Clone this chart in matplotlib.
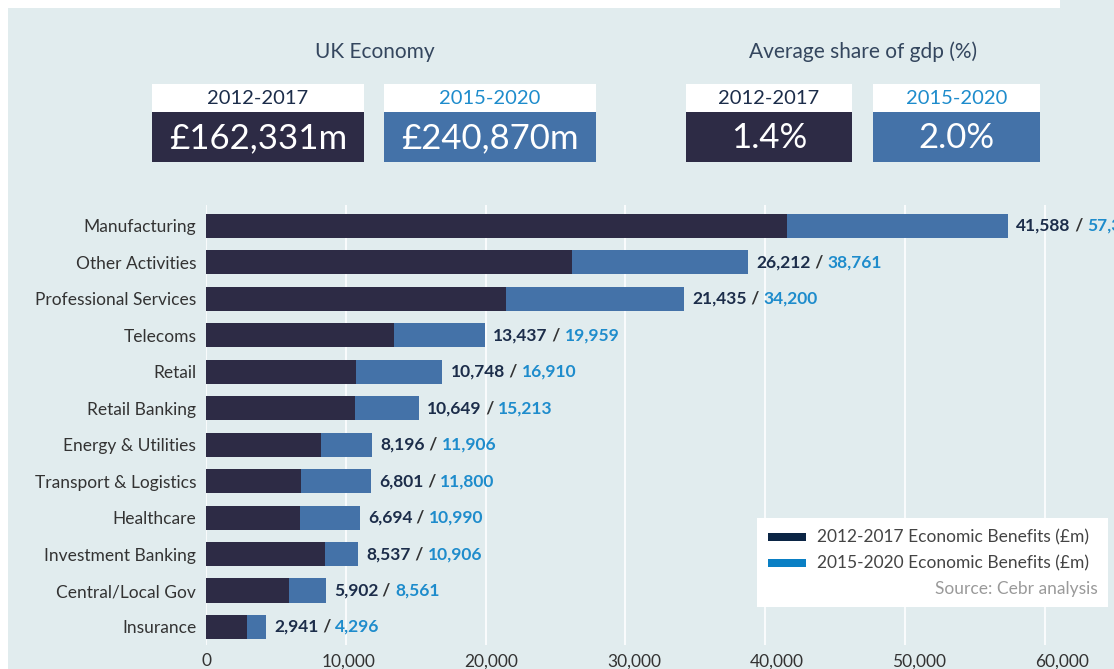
import matplotlib
matplotlib.use("Agg")
import matplotlib.pyplot as plt
from matplotlib.patches import Rectangle

plt.rcParams['font.family'] = ['Lato', 'DejaVu Sans']

# data
sectors = ['Manufacturing', 'Other Activities', 'Professional Services', 'Telecoms',
           'Retail', 'Retail Banking', 'Energy & Utilities', 'Transport & Logistics',
           'Healthcare', 'Investment Banking', 'Central/Local Gov', 'Insurance']
benefits_2012 = [41588, 26212, 21435, 13437, 10748, 10649, 8196, 6801, 6694, 8537, 5902, 2941]
benefits_2015 = [57368, 38761, 34200, 19959, 16910, 15213, 11906, 11800, 10990, 10906, 8561, 4296]
x_ticks = [0, 10000, 20000, 30000, 40000, 50000, 60000]

periods = ['2012-2017', '2015-2020']
uk_economy = ['£162,331m', '£240,870m']
gdp_share = ['1.4%', '2.0%']

W, H = 1114, 669
BG = '#e1ecee'
DARK = '#2d2b45'
BLUE = '#4472a8'
LBL_DARK = '#1c2d4a'
LBL_BLUE = '#1e8ccc'

fig = plt.figure(figsize=(W / 100, H / 100), dpi=100, facecolor=BG)

# main chart axes, placed in pixel terms
left, right, top, bottom = 206, 1114, 205, 645
ax = fig.add_axes([left / W, 1 - bottom / H, (right - left) / W, (bottom - top) / H])
ax.set_facecolor('none')

ypos = list(range(len(sectors)))
ax.barh(ypos, benefits_2015, height=0.66, color=BLUE, zorder=2)
ax.barh(ypos, benefits_2012, height=0.66, color=DARK, zorder=3)

ax.set_xlim(0, 64950)
ax.set_ylim(11.495, -0.576)
ax.set_xticks(x_ticks)
ax.set_yticks(ypos)
ax.set_yticklabels(sectors)
ax.tick_params(axis='both', length=0, labelsize=12.5, colors='#333333')
ax.tick_params(axis='x', labelbottom=False)
ax.tick_params(axis='y', pad=7)
for s in ax.spines.values():
    s.set_visible(False)
ax.grid(axis='x', color='white', lw=1.2, zorder=0)
ax.set_axisbelow(True)

# the original's tick labels sit on a slightly wider scale than its bars
k = 1.0207
sec = ax.secondary_xaxis('bottom', functions=(lambda v: v / k, lambda v: v * k))
sec.set_xticks(x_ticks)
sec.set_xticklabels([f'{t:,}' for t in x_ticks])
sec.tick_params(length=0, labelsize=12.5, colors='#333333', pad=6)
sec.spines['bottom'].set_visible(False)

# value labels: "2012 / 2015"
for y, a, b in zip(ypos, benefits_2012, benefits_2015):
    t1 = ax.annotate(f'{a:,}', xy=(b, y), xytext=(6, 0), textcoords='offset points',
                     ha='left', va='center', fontsize=12.5, fontweight='bold',
                     color=LBL_DARK, zorder=5)
    t2 = ax.annotate(' / ', xy=(1, 0), xycoords=t1, ha='left', va='bottom',
                     fontsize=12.5, fontweight='bold', color='#333333')
    ax.annotate(f'{b:,}', xy=(1, 0), xycoords=t2, ha='left', va='bottom',
                fontsize=12.5, fontweight='bold', color=LBL_BLUE)

# overlay for header boxes and legend
ov = fig.add_axes([0, 0, 1, 1], zorder=10)
ov.set_xlim(0, W)
ov.set_ylim(H, 0)
ov.axis('off')
ov.patch.set_visible(False)

ov.add_patch(Rectangle((0, 0), 8, H, color='white', lw=0))
ov.add_patch(Rectangle((0, 0), 1060, 8, color='white', lw=0))

title_col = '#34465e'
ov.text(375, 52, 'UK Economy', ha='center', va='center', fontsize=15, color=title_col)
ov.text(863, 52, 'Average share of gdp (%)', ha='center', va='center', fontsize=15, color=title_col)

boxes = [(152, 364, periods[0], uk_economy[0], DARK, LBL_DARK),
         (384, 596, periods[1], uk_economy[1], BLUE, LBL_BLUE),
         (686, 852, periods[0], gdp_share[0], DARK, LBL_DARK),
         (873, 1040, periods[1], gdp_share[1], BLUE, LBL_BLUE)]
for x0, x1, per, val, fill, pcol in boxes:
    ov.add_patch(Rectangle((x0, 84), x1 - x0, 28, color='white', lw=0))
    ov.add_patch(Rectangle((x0, 112), x1 - x0, 50, color=fill, lw=0))
    cx = (x0 + x1) / 2
    ov.text(cx, 99, per, ha='center', va='center', fontsize=14.5, color=pcol)
    ov.text(cx, 138, val, ha='center', va='center', fontsize=25, color='white')

# legend box
ov.add_patch(Rectangle((757, 518), 351, 89, color='white', lw=0))
ov.add_patch(Rectangle((768, 533), 38, 8, color='#0b2545', lw=0))
ov.add_patch(Rectangle((768, 559), 38, 8, color='#0a7fc4', lw=0))
ov.text(817, 537, '2012-2017 Economic Benefits (£m)', ha='left', va='center',
        fontsize=12.5, color='#444444')
ov.text(817, 563, '2015-2020 Economic Benefits (£m)', ha='left', va='center',
        fontsize=12.5, color='#444444')
ov.text(1098, 589, 'Source: Cebr analysis', ha='right', va='center',
        fontsize=12.5, color='#9a9a9a')

fig.savefig('out.png', dpi=100, facecolor=BG)
